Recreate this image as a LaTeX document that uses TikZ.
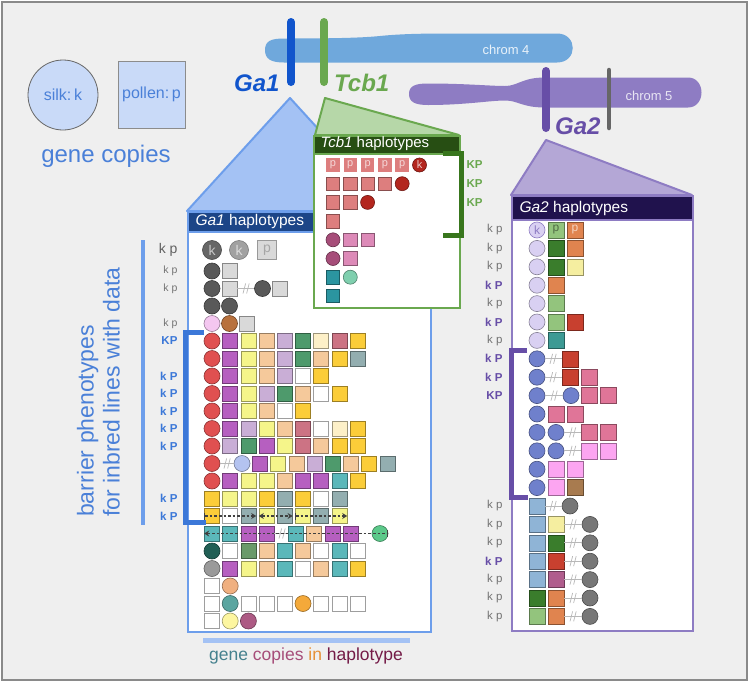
\documentclass[tikz,border=0pt]{standalone}
\usepackage{fontspec}
\setmainfont{Liberation Sans}
\usetikzlibrary{calc,arrows.meta}
\newcommand\fsz[1]{\fontsize{#1}{#1}\selectfont}
% general
\definecolor{bgc}{HTML}{EFEFEF}
\definecolor{framec}{HTML}{8A8A8A}
\definecolor{legblue}{HTML}{4A80D8}
\definecolor{legfill}{HTML}{C9DAF8}
\definecolor{chrf}{HTML}{6FA8DC}
\definecolor{chrv}{HTML}{8E7CC3}
\definecolor{gaone}{HTML}{1155CC}
\definecolor{tcbg}{HTML}{6AA84F}
\definecolor{gatwo}{HTML}{674EA7}
\definecolor{rooff}{HTML}{A4C2F4}
\definecolor{edgef}{HTML}{6D9EEB}
\definecolor{headf}{HTML}{1C4587}
\definecolor{roofg}{HTML}{B6D7A8}
\definecolor{headg}{HTML}{274E13}
\definecolor{roofv}{HTML}{B4A7D6}
\definecolor{headv}{HTML}{20124D}
\definecolor{brkb}{HTML}{3C78D8}
\definecolor{brkg}{HTML}{38761D}
% Ga1 items
\definecolor{dkg}{HTML}{595959}
\definecolor{ltg}{HTML}{D9D9D9}
\definecolor{pinkc}{HTML}{F4C7F0}
\definecolor{brownc}{HTML}{B8713D}
\definecolor{redc}{HTML}{E05050}
\definecolor{purp}{HTML}{B65FC0}
\definecolor{yel}{HTML}{F5F58A}
\definecolor{peach}{HTML}{F5C99B}
\definecolor{lilac}{HTML}{C9AED6}
\definecolor{grn}{HTML}{4E9A6C}
\definecolor{cream}{HTML}{FDF0C8}
\definecolor{rose}{HTML}{CC7384}
\definecolor{gold}{HTML}{FBCD39}
\definecolor{slate}{HTML}{93AEB0}
\definecolor{lavb}{HTML}{B4C3F0}
\definecolor{tealsq}{HTML}{5BB8BA}
\definecolor{mint}{HTML}{5CC98A}
\definecolor{dkteal}{HTML}{215F55}
\definecolor{olivesq}{HTML}{6A9A6A}
\definecolor{midgray}{HTML}{9A9A9A}
\definecolor{peachc}{HTML}{F0B080}
\definecolor{tealc}{HTML}{5AA5A0}
\definecolor{orangec}{HTML}{F4A93A}
\definecolor{paleyc}{HTML}{FDF6A0}
\definecolor{mauvec}{HTML}{AD5A84}
% Ga2 items
\definecolor{lavc}{HTML}{D9D0F2}
\definecolor{dgreen}{HTML}{3A7D2C}
\definecolor{orng}{HTML}{E0844F}
\definecolor{pyel}{HTML}{F5EEA0}
\definecolor{lgreen}{HTML}{93C47D}
\definecolor{redb}{HTML}{C8402F}
\definecolor{tealb}{HTML}{3D9A94}
\definecolor{blu}{HTML}{6F80CC}
\definecolor{pinkb}{HTML}{E07598}
\definecolor{lpink}{HTML}{FCA5F1}
\definecolor{brownb}{HTML}{A87B4F}
\definecolor{lblue}{HTML}{8FB4D6}
\definecolor{grayc}{HTML}{777777}
\definecolor{mauveb}{HTML}{B05D8D}
% Tcb1 items
\definecolor{salmon}{HTML}{DD7E7E}
\definecolor{dkred}{HTML}{B3261E}
\definecolor{mauvet}{HTML}{A64D79}
\definecolor{pinkt}{HTML}{DD8AB8}
\definecolor{tealt}{HTML}{2B95A0}
\definecolor{mintt}{HTML}{7FCFAE}
% bottom text
\definecolor{wgene}{HTML}{45818E}
\definecolor{wcop}{HTML}{A64D79}
\definecolor{win}{HTML}{E69138}
\definecolor{whap}{HTML}{741B47}

\def\csz{16pt}\def\ssz{15pt}
\newcommand\mkrow[5]{\foreach \ity/\icol [count=\cnt] in {#5} {\node[it={\ity}{\icol}] (#1-\cnt) at ({#3+#4*(\cnt-1)},#2) {};}}
\newcommand\mkrowx[3]{\foreach \ix/\ity/\icol [count=\cnt] in {#3} {\node[it={\ity}{\icol}] (#1-\cnt) at (\ix,#2) {};}}
\newcommand\brkmk[3]{\draw[brkl] (#1) -- (#3); \pic at (#2) {brkm};}

\tikzset{
  it/.code 2 args={\if#1c\tikzset{itemc=#2}\else\if#1s\tikzset{items=#2}\else\tikzset{coordinate}\fi\fi},
  itemc/.style={circle, draw=#1!62!black, fill=#1, minimum size=\csz, inner sep=0pt, line width=.6pt},
  items/.style={rectangle, draw=#1!62!black, fill=#1, minimum size=\ssz, inner sep=0pt, line width=.6pt},
  brkl/.style={draw=black!28, line width=.7pt},
  brkm/.pic={\draw[black!28, line width=.7pt] (-3,5) -- (-0.4,-5) (0.6,5) -- (3.2,-5);},
  boxn/.style={draw=#1, fill=white, line width=2pt, anchor=north west, inner sep=0pt},
  hdr/.style={draw=#1, line width=2pt, anchor=north west, inner sep=0pt},
  roof/.style={line width=2pt, line join=round},
  kpl/.style={anchor=east, font=\fsz{11.5}, text=black!55},
  kpb/.style={anchor=east, font=\fsz{11.5}\bfseries, text=#1},
  bracket/.style={line width=5pt, draw=#1},
  dasharr/.style={draw=black!75, line width=1.2pt, dash pattern=on 2.6pt off 2pt},
  bigl/.style={font=\fsz{24}\bfseries\itshape, text=#1, anchor=base west, inner sep=0pt},
}

\begin{document}
\begin{tikzpicture}[x=1pt,y=-1pt]
\useasboundingbox (0,0) rectangle (750,683);
\filldraw[fill=bgc, draw=framec, line width=1.5pt] (2,2) rectangle (747,680);

% legend
\node[circle, draw=black!60, fill=legfill, line width=.8pt, minimum size=70pt, inner sep=0pt, text=legblue, font=\fsz{16}] (silk) at (63,95) {silk:\,k};
\node[rectangle, draw=black!45, fill=legfill, line width=.8pt, minimum size=67pt, inner sep=0pt, text=legblue, font=\fsz{16}] (pollen) at (151.5,94.5) {pollen:\,p};
\node[anchor=base, text=legblue, font=\fsz{24}, inner sep=0pt] (genecopies) at (106,162) {gene copies};

% chromosomes
\fill[chrf] (265,50) .. controls (265,41) and (271,38.5) .. (284,38.5) .. controls (330,38.5) and (360,38) .. (380,36) .. controls (400,34) and (420,33.5) .. (450,33.5) -- (557,33.5) .. controls (578,33.5) and (578,62.5) .. (557,62.5) -- (284,62.5) .. controls (271,62.5) and (265,59) .. (265,50) -- cycle;
\node[text=white!85!chrf, font=\fsz{13}] (chrom4) at (506,50) {chrom 4};
\fill[chrv] (409,94) .. controls (409,86) and (415,83.5) .. (428,83.5) .. controls (465,83.5) and (490,86) .. (505,86) .. controls (518,86) and (522,77.5) .. (545,77.5) -- (688,77.5) .. controls (706,77.5) and (706,107.5) .. (688,107.5) -- (545,107.5) .. controls (522,107.5) and (518,100.5) .. (505,100.5) .. controls (490,100.5) and (465,105) .. (428,105) .. controls (415,105) and (409,102) .. (409,94) -- cycle;
\node[text=white!80!chrv, font=\fsz{13}] (chrom5) at (649,96) {chrom 5};

% gene bars
\draw[gaone, line width=8pt, line cap=round] (291,22) -- (291,82);
\draw[tcbg, line width=8pt, line cap=round] (324,22) -- (324,82);
\draw[gatwo, line width=8pt, line cap=round] (546,71) -- (546,128);
\draw[black!60, line width=4.5pt, line cap=round] (609,70) -- (609,128);
\node[bigl=gaone] (ga1lab) at (234,91) {Ga1};
\node[bigl=tcbg] (tcb1lab) at (334,91) {Tcb1};
\node[bigl=gatwo] (ga2lab) at (555,134) {Ga2};

% ===== Ga1 box =====
\filldraw[roof, fill=rooff, draw=edgef] (187,211) -- (290,98) -- (393,211) -- cycle;
\node[boxn=edgef, minimum width=243pt, minimum height=420pt] (ga1box) at (187,211) {};
\node[hdr=edgef, fill=headf, minimum width=243pt, minimum height=20pt] (ga1hd) at (187,211) {};
\node[anchor=west, text=white, font=\fsz{15.5}] (ga1title) at (192,221.5) {\textit{Ga1} haplotypes};

% Ga1 rows
\node[circle, fill=black!60, draw=black!72, line width=.6pt, minimum size=19pt, inner sep=0pt, text=black!22, font=\fsz{14}] (a0-1) at (212,250) {k};
\node[circle, fill=black!37, draw=black!52, line width=.6pt, minimum size=19pt, inner sep=0pt, text=black!14, font=\fsz{14}] (a0-2) at (239,250) {k};
\node[rectangle, fill=ltg, draw=black!40, line width=.6pt, minimum size=19pt, inner sep=0pt, text=black!35, font=\fsz{14}] (a0-3) at (267,250) {p};
\mkrow{a1}{271}{212}{17.5}{c/dkg,s/ltg}
\mkrowx{a2}{288.5}{212/c/dkg,229.5/s/ltg,246/n/none,262.5/c/dkg,279.5/s/ltg}
\brkmk{a2-2}{a2-3}{a2-4}
\mkrow{a3}{306}{212}{17.5}{c/dkg,c/dkg}
\mkrow{a4}{323.5}{212}{17.5}{c/pinkc,c/brownc,s/ltg}
\mkrow{a5}{341}{212}{18.2}{c/redc,s/purp,s/yel,s/peach,s/lilac,s/grn,s/cream,s/rose,s/gold}
\mkrow{a6}{358.5}{212}{18.2}{c/redc,s/purp,s/yel,s/peach,s/lilac,s/grn,s/peach,s/gold,s/slate}
\mkrow{a7}{376}{212}{18.2}{c/redc,s/purp,s/yel,s/peach,s/lilac,s/white,s/gold}
\mkrow{a8}{393.5}{212}{18.2}{c/redc,s/purp,s/yel,s/lilac,s/grn,s/peach,s/white,s/gold}
\mkrow{a9}{411}{212}{18.2}{c/redc,s/purp,s/yel,s/peach,s/white,s/gold}
\mkrow{a10}{428.5}{212}{18.2}{c/redc,s/purp,s/lilac,s/yel,s/peach,s/rose,s/white,s/cream,s/gold}
\mkrow{a11}{446}{212}{18.2}{c/redc,s/lilac,s/grn,s/purp,s/yel,s/rose,s/peach,s/gold,s/gold}
\mkrowx{a12}{463.5}{212/c/redc,227/n/none,242/c/lavb,260/s/purp,278.2/s/yel,296.4/s/peach,314.6/s/lilac,332.8/s/grn,351/s/peach,369.2/s/gold,387.4/s/slate}
\brkmk{a12-1}{a12-2}{a12-3}
\mkrow{a13}{481}{212}{18.2}{c/redc,s/purp,s/yel,s/yel,s/peach,s/purp,s/purp,s/tealsq,s/gold}
\mkrow{a14}{498.5}{212}{18.2}{s/gold,s/yel,s/yel,s/gold,s/slate,s/gold,s/white,s/slate}
\mkrow{a15}{516}{212}{18.2}{s/gold,s/white,s/slate,s/yel,s/slate,s/yel,s/slate,s/yel}
\mkrowx{a16}{533.5}{212/s/tealsq,230.2/s/tealsq,248.4/s/purp,266.6/s/purp,282/n/none,296/s/tealsq,314.2/s/peach,332.4/s/purp,350.6/s/purp,380/c/mint}
\brkmk{a16-4}{a16-5}{a16-6}
\mkrow{a17}{551}{212}{18.2}{c/dkteal,s/white,s/olivesq,s/peach,s/tealsq,s/peach,s/white,s/tealsq,s/white}
\mkrow{a18}{568.5}{212}{18.2}{c/midgray,s/purp,s/yel,s/peach,s/tealsq,s/white,s/peach,s/tealsq,s/gold}
\mkrow{a19}{586}{212}{18.2}{s/white,c/peachc}
\mkrow{a20}{603.5}{212}{18.2}{s/white,c/tealc,s/white,s/white,s/white,c/orangec,s/white,s/white,s/white}
\mkrow{a21}{621}{212}{18.2}{s/white,c/paleyc,c/mauvec}

% dashed arrows
\draw[dasharr, {Bar[width=7pt,sep=0pt]}-{Stealth[length=5pt,width=6pt]}] (a15-1.west) -- (a15-3.east);
\draw[dasharr, {Stealth[length=5pt,width=6pt]}-{Stealth[length=5pt,width=6pt]}] (a15-4.west) -- (a15-5.east);
\draw[dasharr, {Bar[width=7pt]}-{Stealth[length=5pt,width=6pt]}] (a15-6.west) -- (a15-8.east);
\draw[dasharr, {Stealth[length=5pt,width=6pt]}-{Bar[width=7pt]}] (a16-1.west) -- (a16-10.east);

% Ga1 labels
\node[anchor=east, font=\fsz{14}, text=black!62] (l0) at (181,250) {k p};
\node[kpl, font=\fsz{10.5}] (l1) at (181,271) {k p};
\node[kpl, font=\fsz{10.5}] (l2) at (181,288.5) {k p};
\node[kpl, font=\fsz{10.5}] (l4) at (181,323.5) {k p};
\node[kpb=brkb] (l5) at (181,341) {KP};
\node[kpb=brkb] (l7) at (181,376) {k P};
\node[kpb=brkb] (l8) at (181,393.5) {k P};
\node[kpb=brkb] (l9) at (181,411) {k P};
\node[kpb=brkb] (l10) at (181,428.5) {k P};
\node[kpb=brkb] (l11) at (181,446) {k P};
\node[kpb=brkb] (l14) at (181,498.5) {k P};
\node[kpb=brkb] (l15) at (181,516) {k P};
\draw[bracket=brkb] (204,332) -- (185,332) -- (185,522) -- (206,522);

% left annotations
\draw[edgef, line width=4pt] (143,240) -- (143,525);
\node[rotate=90, anchor=base west, inner sep=0pt, text=legblue, font=\fsz{23}] (barr1) at (93.5,517) {barrier phenotypes};
\node[rotate=90, anchor=base west, inner sep=0pt, text=legblue, font=\fsz{23}] (barr2) at (119.5,517) {for inbred lines with data};

% bottom
\draw[rooff, line width=5pt] (203,640) -- (410,640);
\node[anchor=base, inner sep=0pt, font=\fsz{17.5}] (bottomtxt) at (306,660) {\textcolor{wgene}{gene} \textcolor{wcop}{copies} \textcolor{win}{in} \textcolor{whap}{haplotype}};

% ===== Tcb1 box =====
\filldraw[roof, fill=roofg, draw=tcbg] (315,135) -- (325,98) -- (459,135) -- cycle;
\node[boxn=tcbg, minimum width=146pt, minimum height=172pt] (tcbbox) at (313,135) {};
\node[hdr=tcbg, fill=headg, minimum width=146pt, minimum height=18pt] (tcbhd) at (313,135) {};
\node[anchor=west, text=white, font=\fsz{15}] (tcbtitle) at (317,144) {\textit{Tcb1} haplotypes};
\def\csz{14pt}\def\ssz{13.5pt}
\foreach \k in {1,...,5} {\node[items=salmon, draw=none, text=white!70!salmon, font=\fsz{11}] (t0-\k) at ({333+17.3*(\k-1)},165) {p};}
\node[itemc=dkred, text=white!75!dkred, font=\fsz{11}] (t0-6) at (419.5,165) {k};
\mkrow{t1}{183.7}{333}{17.3}{s/salmon,s/salmon,s/salmon,s/salmon,c/dkred}
\mkrow{t2}{202.4}{333}{17.3}{s/salmon,s/salmon,c/dkred}
\mkrow{t3}{221.1}{333}{17.3}{s/salmon}
\mkrow{t4}{239.8}{333}{17.3}{c/mauvet,s/pinkt,s/pinkt}
\mkrow{t5}{258.5}{333}{17.3}{c/mauvet,s/pinkt}
\mkrow{t6}{277.2}{333}{17.3}{s/tealt,c/mintt}
\mkrow{t7}{295.9}{333}{17.3}{s/tealt}
\draw[bracket=brkg] (443,153) -- (461,153) -- (461,235) -- (443,235);
\node[anchor=west, font=\fsz{11.5}\bfseries, text=tcbg] (tk1) at (463,165) {KP};
\node[anchor=west, font=\fsz{11.5}\bfseries, text=tcbg] (tk2) at (463,184) {KP};
\node[anchor=west, font=\fsz{11.5}\bfseries, text=tcbg] (tk3) at (463,203) {KP};

% ===== Ga2 box =====
\filldraw[roof, fill=roofv, draw=chrv] (511,195) -- (546,140) -- (692,195) -- cycle;
\node[boxn=chrv, minimum width=181pt, minimum height=435pt] (ga2box) at (511,195) {};
\node[hdr=chrv, fill=headv, minimum width=181pt, minimum height=24pt] (ga2hd) at (511,195) {};
\node[anchor=west, text=white, font=\fsz{15.5}] (ga2title) at (516,208) {\textit{Ga2} haplotypes};
\def\csz{16pt}\def\ssz{16pt}
\node[itemc=lavc, draw=chrv, text=chrv, font=\fsz{12}] (b0-1) at (537,230) {k};
\node[items=lgreen, text=lgreen!55!black, font=\fsz{12}] (b0-2) at (556,230) {p};
\node[items=orng, text=white!65!orng, font=\fsz{12}] (b0-3) at (575,230) {p};
\mkrow{b1}{248.4}{537}{19}{c/lavc,s/dgreen,s/orng}
\mkrow{b2}{266.8}{537}{19}{c/lavc,s/dgreen,s/pyel}
\mkrow{b3}{285.2}{537}{19}{c/lavc,s/orng}
\mkrow{b4}{303.6}{537}{19}{c/lavc,s/lgreen}
\mkrow{b5}{322}{537}{19}{c/lavc,s/lgreen,s/redb}
\mkrow{b6}{340.4}{537}{19}{c/lavc,s/tealb}
\mkrowx{b7}{358.8}{537/c/blu,553/n/none,570/s/redb}
\brkmk{b7-1}{b7-2}{b7-3}
\mkrowx{b8}{377.2}{537/c/blu,553/n/none,570/s/redb,589/s/pinkb}
\brkmk{b8-1}{b8-2}{b8-3}
\mkrowx{b9}{395.6}{537/c/blu,554/n/none,571/c/blu,589.5/s/pinkb,608.5/s/pinkb}
\brkmk{b9-1}{b9-2}{b9-3}
\mkrow{b10}{414}{537}{19}{c/blu,s/pinkb,s/pinkb}
\mkrowx{b11}{432.4}{537/c/blu,556/c/blu,572.5/n/none,589.5/s/pinkb,608.5/s/pinkb}
\brkmk{b11-2}{b11-3}{b11-4}
\mkrowx{b12}{450.8}{537/c/blu,556/c/blu,572.5/n/none,589.5/s/lpink,608.5/s/lpink}
\brkmk{b12-2}{b12-3}{b12-4}
\mkrow{b13}{469.2}{537}{19}{c/blu,s/lpink,s/lpink}
\mkrow{b14}{487.6}{537}{19}{c/blu,s/lpink,s/brownb}
\mkrowx{b15}{506}{537/s/lblue,553/n/none,570/c/grayc}
\brkmk{b15-1}{b15-2}{b15-3}
\mkrowx{b16}{524.4}{537/s/lblue,556/s/pyel,573/n/none,590/c/grayc}
\brkmk{b16-2}{b16-3}{b16-4}
\mkrowx{b17}{542.8}{537/s/lblue,556/s/dgreen,573/n/none,590/c/grayc}
\brkmk{b17-2}{b17-3}{b17-4}
\mkrowx{b18}{561.2}{537/s/lblue,556/s/redb,573/n/none,590/c/grayc}
\brkmk{b18-2}{b18-3}{b18-4}
\mkrowx{b19}{579.6}{537/s/lblue,556/s/mauveb,573/n/none,590/c/grayc}
\brkmk{b19-2}{b19-3}{b19-4}
\mkrowx{b20}{598}{537/s/dgreen,556/s/orng,573/n/none,590/c/grayc}
\brkmk{b20-2}{b20-3}{b20-4}
\mkrowx{b21}{616.4}{537/s/lgreen,556/s/orng,573/n/none,590/c/grayc}
\brkmk{b21-2}{b21-3}{b21-4}

% Ga2 labels
\node[kpl] (m0) at (506,230) {k p};
\node[kpl] (m1) at (506,248.4) {k p};
\node[kpl] (m2) at (506,266.8) {k p};
\node[kpb=gatwo] (m3) at (506,285.2) {k P};
\node[kpl] (m4) at (506,303.6) {k p};
\node[kpb=gatwo] (m5) at (506,322) {k P};
\node[kpl] (m6) at (506,340.4) {k p};
\node[kpb=gatwo] (m7) at (506,358.8) {k P};
\node[kpb=gatwo] (m8) at (506,377.2) {k P};
\node[kpb=gatwo] (m9) at (506,395.6) {KP};
\node[kpl] (m15) at (506,506) {k p};
\node[kpl] (m16) at (506,524.4) {k p};
\node[kpl] (m17) at (506,542.8) {k p};
\node[kpb=gatwo] (m18) at (506,561.2) {k P};
\node[kpl] (m19) at (506,579.6) {k p};
\node[kpl] (m20) at (506,598) {k p};
\node[kpl] (m21) at (506,616.4) {k p};
\draw[bracket=gatwo] (527,350.5) -- (511,350.5) -- (511,497) -- (528,497);
\end{tikzpicture}
\end{document}
